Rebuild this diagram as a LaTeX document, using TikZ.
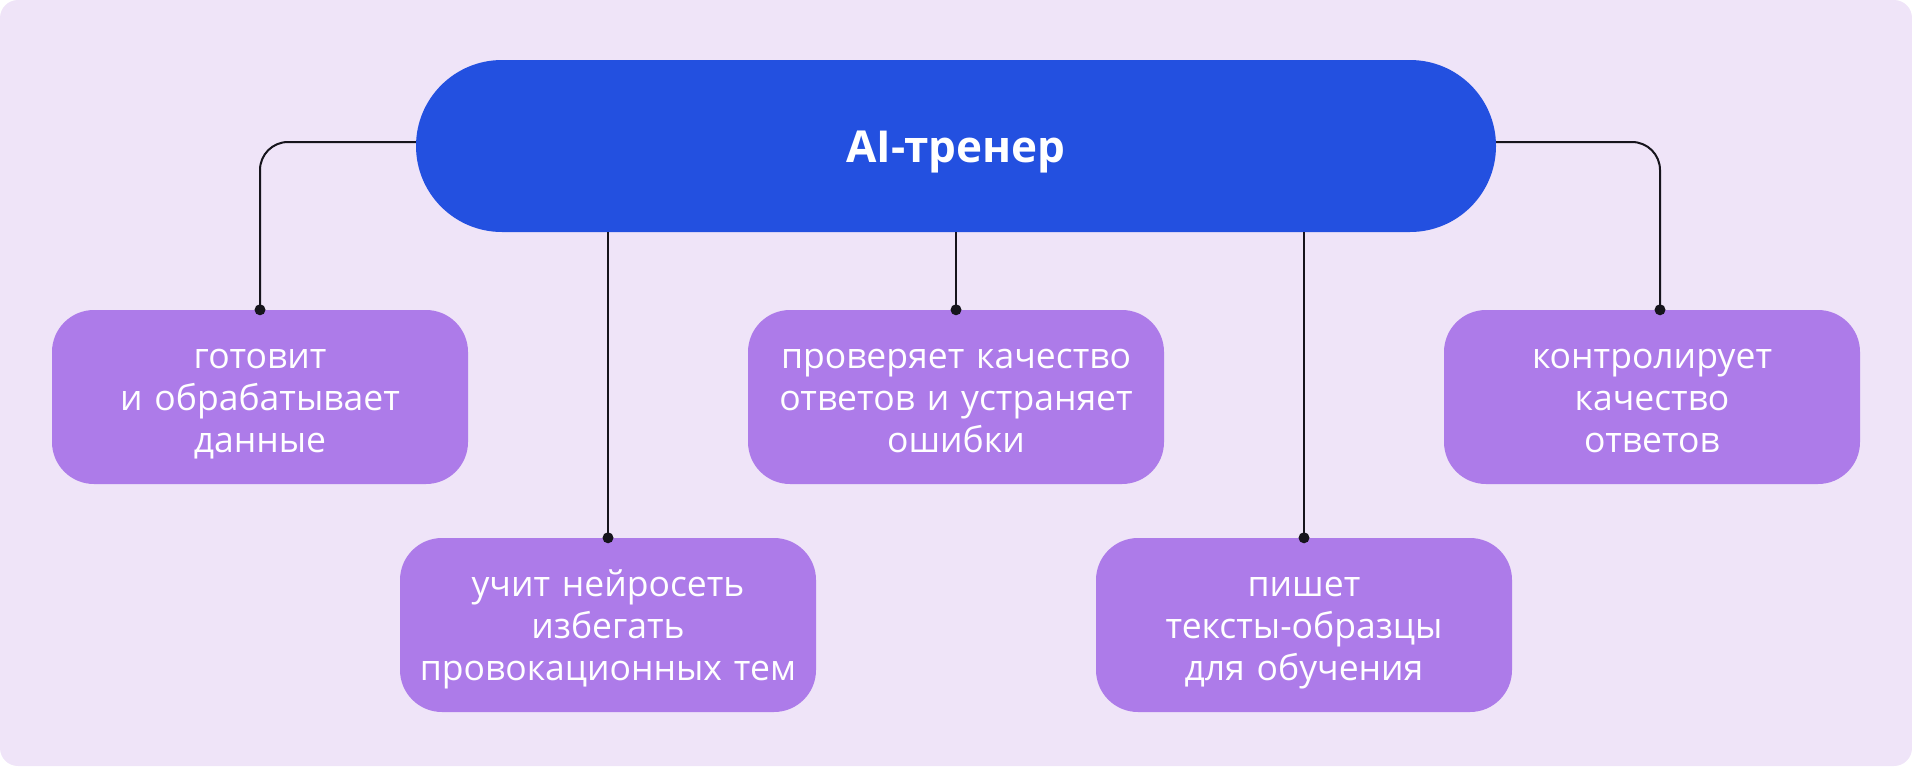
\documentclass[tikz,border=0pt]{standalone}
\usepackage{fontspec}
\setmainfont{Open Sans}
\usetikzlibrary{positioning}
\definecolor{bgcol}{HTML}{EFE4F8}
\definecolor{rootcol}{HTML}{2350E0}
\definecolor{boxcol}{HTML}{AD7BE9}
\definecolor{linecol}{HTML}{16141C}
\tikzset{
  root/.style={fill=rootcol,text=white,rounded corners=86pt,minimum width=1080pt,
    minimum height=172pt,text height=32pt,text depth=0pt,font=\fontsize{44}{50}\selectfont\bfseries},
  task/.style={fill=boxcol,text=white,rounded corners=42pt,minimum width=416pt,
    minimum height=174pt,text width=400pt,align=center,font=\fontsize{35.5}{42}\selectfont,
    execute at begin node={\rule{0pt}{36pt}},execute at end node={\rule[-10pt]{0pt}{10pt}}},
  conn/.style={draw=linecol,line width=2pt},
}
\begin{document}
\begin{tikzpicture}[x=1pt,y=-1pt]
      \useasboundingbox (0,0) rectangle (1912,766);
      \fill[bgcol,rounded corners=18pt] (0,0) rectangle (1912,766);
      \node[root](ai) at (956,146){AI-тренер};
      \node[task](prep) at (260,397){готовит\\и обрабатывает\\данные};
      \node[task](check) at (956,397){проверяет качество\\ответов и устраняет\\ошибки};
      \node[task](ctrl) at (1652,397){контролирует\\качество\\ответов};
      \node[task](avoid) at (608,625){учит нейросеть\\избегать\\провокационных тем};
      \node[task](write) at (1304,625){пишет\\тексты-образцы\\для обучения};
      \coordinate (ctrltop) at ([xshift=8pt]ctrl.north);
      \path[conn,rounded corners=28pt]
        ([yshift=4pt]ai.west) edge[to path={-| (\tikztotarget)}] (prep.north)
        ([yshift=4pt]ai.east) edge[to path={-| (\tikztotarget)}] (ctrltop)
        (ai.south -| avoid.north) edge (avoid.north)
        (ai.south -| check.north) edge (check.north)
        (ai.south -| write.north) edge (write.north)
      ;
      \fill[linecol] (prep.north) circle (5.5pt) (check.north) circle (5.5pt)
        (ctrltop) circle (5.5pt) (avoid.north) circle (5.5pt) (write.north) circle (5.5pt);
    \end{tikzpicture}
\end{document}
